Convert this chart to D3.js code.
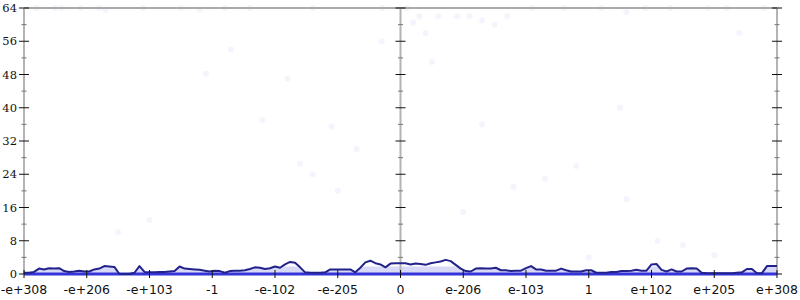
<!DOCTYPE html>
<html><head><meta charset="utf-8">
<script src="https://cdn.jsdelivr.net/npm/d3@7"></script>
<style>body{margin:0;background:#fff}svg{display:block}</style>
</head><body><svg id="c" width="800" height="300"></svg>
<script>
const xTickLabels = ["-e+308","-e+206","-e+103","-1","-e-102","-e-205","0","e-206","e-103","1","e+102","e+205","e+308"];
const yTicks = [0,8,16,24,32,40,48,56,64];
const lineValues = [0.3,0.3,0.5,1.3,1.1,1.4,1.3,1.4,0.7,0.5,0.6,0.8,0.6,0.6,1.1,1.3,1.9,1.8,1.7,0,0,0,0.3,1.9,0.5,0.4,0.4,0.5,0.5,0.6,
0.7,1.8,1.3,1.2,1.1,1.0,0.8,0.6,0.8,0.7,0.3,0.7,0.8,0.8,0.9,1.2,1.6,1.5,1.2,1.4,1.8,1.5,2.3,2.9,2.7,1.6,0.4,0.3,0.3,0.3,
0.4,1.1,1.1,1.1,1.1,1.1,0.4,1.5,2.8,3.2,2.6,2.3,1.6,2.5,2.6,2.6,2.6,2.3,2.5,2.4,2.2,2.6,2.8,3.0,3.4,3.1,2.2,1.3,0.7,0.6,
1.3,1.4,1.3,1.3,1.5,0.9,0.9,0.7,0.8,0.8,1.4,1.9,1.1,1.1,0.8,0.8,0.8,1.3,0.9,0.6,0.6,0.6,0.9,0.9,0.3,0.3,0.3,0.5,0.5,0.7,
0.7,0.8,1.0,0.8,0.8,2.3,2.4,1.0,0.6,1.1,0.6,0.6,1.3,1.4,1.3,0.3,0.2,0.2,0.2,0.2,0.2,0.2,0.3,0.4,1.2,1.2,0.2,0.2,1.9,1.9,1.9];
// faint scatter points: [position on tick-index scale, value]
const scatterX = [0.2,0.5,0.6,0.9,1.2,1.3,1.9,2.5,2.8,3.2,3.6,4.6,5.7,6.1,6.2,6.3,6.4,6.6,6.9,7.1,7.3,7.5,7.7,8.1,8.6,9.2,9.6,9.9,10.3,10.9,11.2,11.4,11.8,
2.9,3.3,3.8,4.2,4.4,4.6,4.9,5.3,5.7,6.5,7.3,7.8,8.3,8.8,9.5,9.6,10.1,10.5,2.0,5.0,7.0,9.0,1.5,11.0];
const scatterY = [64,64,64,64,64,63.5,64,64,63.7,64,64,64,64,64,60.5,62,58,62,62,62,61,60,62,64,64,64,63,64,64,64,64,58,64,
48.2,54,37,47,26.5,24,35.5,30,56,51,36,21,23,26,40,18,8,7,13,20,15,4,10,4.5];
const W = 800, H = 300, L = 24, R = 777, T = 8, B = 274;
const svg = d3.select("#c");
const x = d3.scaleLinear().domain([0, xTickLabels.length - 1]).range([L, R]);
const xi = d3.scaleLinear().domain([0, lineValues.length - 1]).range([L, R]);
const y = d3.scaleLinear().domain([0, 64]).range([B, T]);

// faint scatter
svg.append("g").selectAll("circle").data(scatterX).join("circle")
  .attr("cx", (d) => x(d)).attr("cy", (d, i) => y(scatterY[i])).attr("r", 3)
  .attr("fill", "#6a6ae6").attr("fill-opacity", 0.07);

// light band under line
svg.append("path").datum(lineValues)
  .attr("d", d3.area().x((d, i) => xi(i)).y0(y(0)).y1(d => y(Math.min(d, 1.8))))
  .attr("fill", "#b8b8f0").attr("fill-opacity", 0.55);

// top frame line
svg.append("line").attr("x1", L).attr("x2", R).attr("y1", y(64)).attr("y2", y(64))
  .attr("stroke", "#aaaaaa").attr("stroke-width", 2);

// vertical axes
[0, 6, 12].forEach(k => {
  const px = x(k);
  const g = svg.append("g");
  g.append("line").attr("x1", px).attr("x2", px).attr("y1", y(64)).attr("y2", y(0))
    .attr("stroke", "#b4b4b4").attr("stroke-width", 2);
  d3.range(0, 65, 4).forEach(v => {
    const major = v % 8 === 0;
    const hw = major ? 5 : 2.5;
    g.append("line").attr("x1", px - hw).attr("x2", px + hw).attr("y1", y(v)).attr("y2", y(v))
      .attr("stroke", major ? "#111" : "#777").attr("stroke-width", 1);
  });
});

// y labels
svg.append("g").selectAll("text").data(yTicks).join("text")
  .attr("x", 17).attr("y", d => y(d)).attr("dy", "0.35em").attr("text-anchor", "end")
  .attr("font-family", "DejaVu Serif").attr("font-size", 11.5).attr("fill", "#111")
  .text(d => d);

// baseline
svg.append("line").attr("x1", L).attr("x2", R).attr("y1", y(0)).attr("y2", y(0))
  .attr("stroke", "#3434d8").attr("stroke-width", 3);

// step line
svg.append("path").datum(lineValues)
  .attr("d", d3.line().x((d, i) => xi(i)).y(d => y(d)))
  .attr("fill", "none").attr("stroke", "#22228c").attr("stroke-width", 2).attr("stroke-linejoin", "round");

// x ticks and labels
const xg = svg.append("g");
xTickLabels.forEach((t, i) => {
  xg.append("line").attr("x1", x(i)).attr("x2", x(i)).attr("y1", y(0) - 4).attr("y2", y(0) + 4)
    .attr("stroke", "#111").attr("stroke-width", 1);
  xg.append("text").attr("x", x(i)).attr("y", 294).attr("text-anchor", "middle")
    .attr("font-family", "DejaVu Sans").attr("font-size", 12.5).attr("fill", "#111").text(t);
});
</script></body></html>
